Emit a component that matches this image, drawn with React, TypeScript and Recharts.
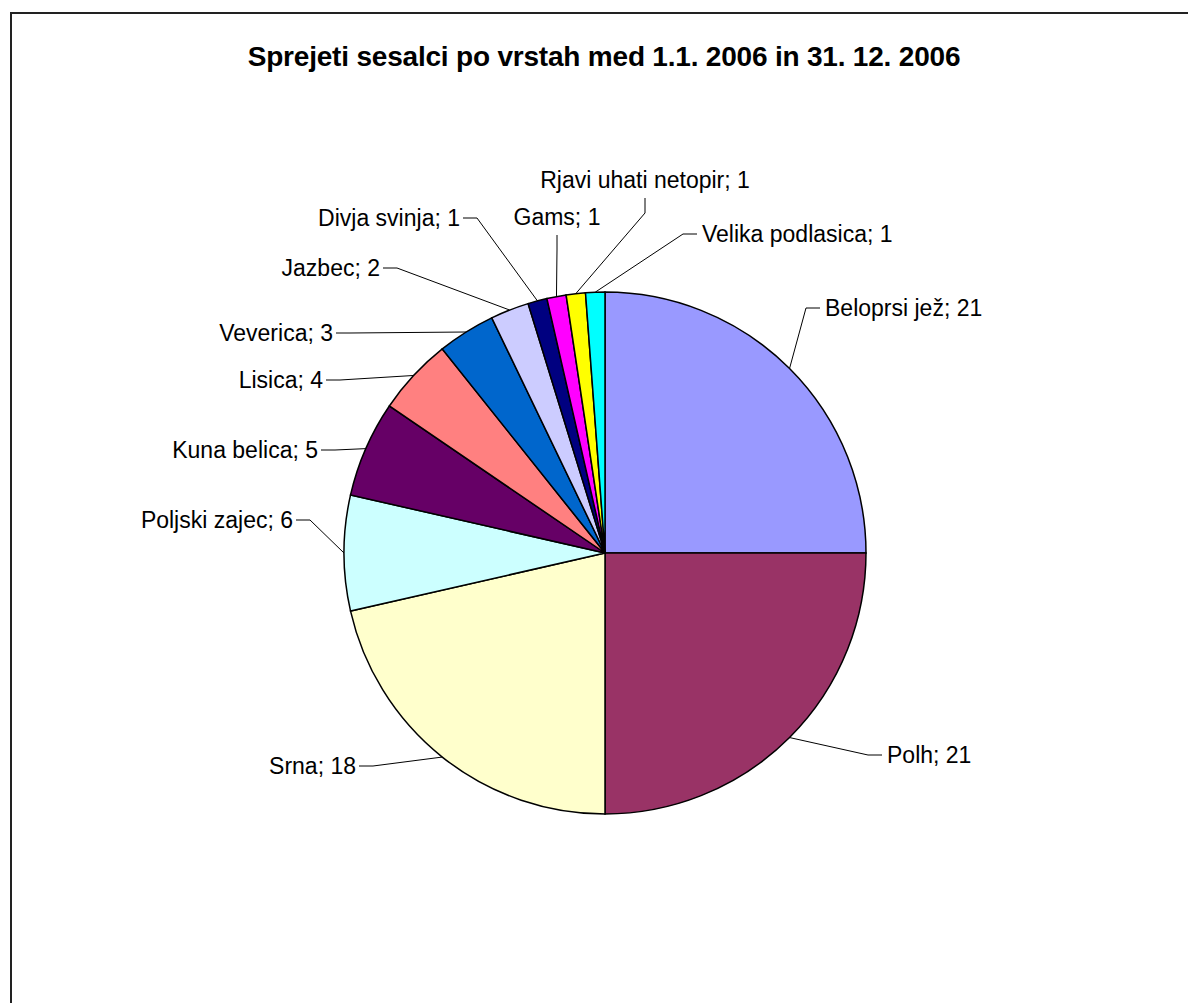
import React from "react";
import { PieChart, Pie, Cell } from "recharts";

// podatki
const vrste = [
  "Beloprsi jež",
  "Polh",
  "Srna",
  "Poljski zajec",
  "Kuna belica",
  "Lisica",
  "Veverica",
  "Jazbec",
  "Divja svinja",
  "Gams",
  "Rjavi uhati netopir",
  "Velika podlasica",
];
const stevila = [21, 21, 18, 6, 5, 4, 3, 2, 1, 1, 1, 1];
const barve = [
  "#9999FF",
  "#993366",
  "#FFFFCC",
  "#CCFFFF",
  "#660066",
  "#FF8080",
  "#0066CC",
  "#CCCCFF",
  "#000080",
  "#FF00FF",
  "#FFFF00",
  "#00FFFF",
];
const naslov = "Sprejeti sesalci po vrstah med 1.1. 2006 in 31. 12. 2006";

// postavitev oznak (pregib črte glede na središče, stran besedila)
const oznakePostavitev: [number, number, "L" | "R" | "U"][] = [
  [201, -245, "R"],
  [263, 202, "R"],
  [-232, 213, "L"],
  [-295, -33, "L"],
  [-270, -103, "L"],
  [-265, -173, "L"],
  [-255, -220, "L"],
  [-208, -285, "L"],
  [-128, -335, "L"],
  [-48, -303, "U"],
  [40, -340, "U"],
  [78, -319, "R"],
];

const dados = vrste.map((ime, i) => ({ ime, vrednost: stevila[i] }));

const RAD = Math.PI / 180;
const FONT = "'Liberation Sans', Arial, sans-serif";

function Oznaka(props: any) {
  const { cx, cy, midAngle, outerRadius, index, payload } = props;
  const [dx, dy, stran] = oznakePostavitev[index];
  const ex = cx + outerRadius * Math.cos(-midAngle * RAD);
  const ey = cy + outerRadius * Math.sin(-midAngle * RAD);
  const kx = cx + dx;
  const ky = cy + dy;
  const besedilo = `${payload.ime}; ${payload.vrednost}`;
  let tocke: string;
  let tx: number;
  let ty: number;
  let anchor: "start" | "end" | "middle";
  if (stran === "R") {
    tocke = `${ex},${ey} ${kx},${ky} ${kx + 14},${ky}`;
    tx = kx + 19;
    ty = ky;
    anchor = "start";
  } else if (stran === "L") {
    tocke = `${ex},${ey} ${kx},${ky} ${kx - 14},${ky}`;
    tx = kx - 17;
    ty = ky;
    anchor = "end";
  } else {
    tocke = `${ex},${ey} ${kx},${ky} ${kx},${ky - 15}`;
    tx = kx;
    ty = ky - 15 - 18;
    anchor = "middle";
  }
  return (
    <g>
      <polyline points={tocke} fill="none" stroke="#000" strokeWidth={1} />
      <text
        x={tx}
        y={ty}
        textAnchor={anchor}
        dominantBaseline="central"
        fontFamily={FONT}
        fontSize={23}
        fill="#000"
      >
        {besedilo}
      </text>
    </g>
  );
}

export default function App() {
  return (
    <div style={{ position: "absolute", left: 0, top: 0, width: 1188, height: 1003, background: "#fff", overflow: "hidden" }}>
      <div
        style={{
          position: "absolute",
          left: 10,
          top: 12,
          width: 1200,
          height: 1010,
          border: "2px solid #222",
          boxSizing: "border-box",
        }}
      />
      <div
        style={{
          position: "absolute",
          left: 0,
          width: 1208,
          top: 40,
          textAlign: "center",
          fontFamily: FONT,
          fontWeight: "bold",
          fontSize: 28,
          letterSpacing: -0.2,
          lineHeight: "34px",
        }}
      >
        {naslov}
      </div>
      <div style={{ position: "absolute", left: 0, top: 0 }}>
        <PieChart width={1188} height={1003} margin={{ top: 0, right: 0, bottom: 0, left: 0 }}>
          <Pie
            data={dados}
            dataKey="vrednost"
            nameKey="ime"
            cx={605}
            cy={553}
            outerRadius={261}
            startAngle={90}
            endAngle={-270}
            stroke="#000"
            strokeWidth={1.5}
            label={Oznaka}
            labelLine={false}
            isAnimationActive={false}
          >
            {dados.map((d, i) => (
              <Cell key={d.ime} fill={barve[i]} />
            ))}
          </Pie>
        </PieChart>
      </div>
    </div>
  );
}
